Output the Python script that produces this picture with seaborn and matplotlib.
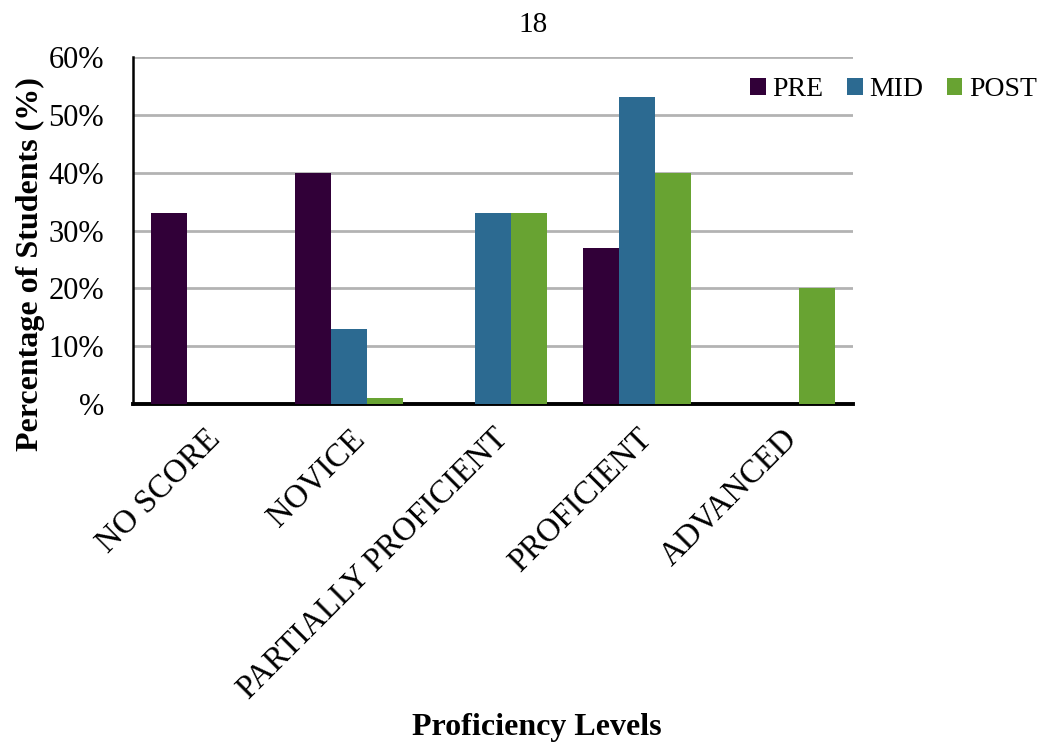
import matplotlib
matplotlib.use("Agg")
import matplotlib.pyplot as plt
import pandas as pd
import seaborn as sns

# Data
levels = ["NO SCORE", "NOVICE", "PARTIALLY PROFICIENT", "PROFICIENT", "ADVANCED"]
pre = [33, 40, 0, 27, 0]
mid = [0, 13, 33, 53, 0]
post = [0, 1, 33, 40, 20]
y_ticks = [0, 10, 20, 30, 40, 50, 60]
y_tick_labels = ["%", "10%", "20%", "30%", "40%", "50%", "60%"]

df = pd.DataFrame({
    "level": levels * 3,
    "test": ["PRE"] * 5 + ["MID"] * 5 + ["POST"] * 5,
    "value": pre + mid + post,
})

sns.set_style("white")
plt.rcParams["font.family"] = ["Liberation Serif", "DejaVu Serif"]
plt.rcParams["text.color"] = "black"
plt.rcParams["xtick.color"] = "black"
plt.rcParams["ytick.color"] = "black"

fig = plt.figure(figsize=(10.42, 7.46), dpi=100)
ax = fig.add_axes([0.1276, 0.4584, 0.691, 0.4652])

colors = {"PRE": "#310038", "MID": "#2C6A91", "POST": "#68A332"}
sns.barplot(data=df, x="level", y="value", hue="test", order=levels,
            hue_order=["PRE", "MID", "POST"], palette=colors, width=0.75,
            saturation=1, linewidth=0, ax=ax, zorder=3)

ax.set_ylim(0, 60)
ax.set_yticks(y_ticks)
ax.set_yticklabels(y_tick_labels, fontsize=22)
ax.yaxis.grid(True, color="#B3B3B3", linewidth=2, zorder=0)
ax.set_axisbelow(True)
ax.set_xticks(range(len(levels)))
ax.set_xticklabels(levels, rotation=45, ha="right", rotation_mode="anchor",
                   fontsize=23.5)
ax.tick_params(axis="y", length=0, pad=21)
ax.tick_params(axis="x", length=0, pad=14)
ax.set_xlabel("")
ax.set_ylabel("")

for side in ["top", "right"]:
    ax.spines[side].set_visible(False)
ax.spines["left"].set_color("black")
ax.spines["left"].set_linewidth(1.8)
ax.spines["bottom"].set_color("black")
ax.spines["bottom"].set_linewidth(2.8)

handles, labels = ax.get_legend_handles_labels()
ax.legend(handles, labels, ncol=3, loc="center right",
          bbox_to_anchor=(1040 / 1042, 1 - 90 / 746), bbox_transform=fig.transFigure,
          frameon=False, fontsize=20, handlelength=0.55, handleheight=0.55,
          handletextpad=0.25, columnspacing=0.85, borderaxespad=0.0,
          borderpad=0.1)

fig.text(533 / 1042, 1 - 25 / 746, "18", ha="center", va="center", fontsize=21)
fig.text(537 / 1042, 1 - 728 / 746, "Proficiency Levels", ha="center",
         va="center", fontsize=23, fontweight="bold")
fig.text(30 / 1042, 1 - 264 / 746, "Percentage of Students (%)", ha="center",
         va="center", rotation=90, fontsize=23, fontweight="bold")

fig.savefig("out.png", dpi=100)
